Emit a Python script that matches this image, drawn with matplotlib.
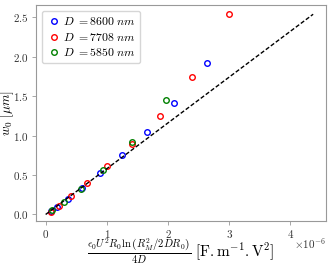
import numpy as np
import matplotlib
matplotlib.use("Agg")
import matplotlib.pyplot as plt

plt.rcParams['mathtext.fontset'] = 'cm'
plt.rcParams['font.family'] = 'serif'
plt.rcParams['font.serif'] = ['cmr10', 'DejaVu Serif']
plt.rcParams['axes.formatter.use_mathtext'] = True
plt.rcParams['axes.unicode_minus'] = False

scale = 1e-6

# D = 8600 nm
x_blue = [0.08, 0.19, 0.37, 0.59, 0.89, 1.24, 1.65, 2.10, 2.63]
y_blue = [0.04, 0.10, 0.20, 0.34, 0.53, 0.76, 1.05, 1.42, 1.92]
# D = 7708 nm
x_red = [0.09, 0.22, 0.41, 0.68, 1.01, 1.41, 1.87, 2.39, 3.00]
y_red = [0.03, 0.11, 0.23, 0.40, 0.61, 0.89, 1.25, 1.75, 2.54]
# D = 5850 nm
x_green = [0.11, 0.30, 0.58, 0.94, 1.41, 1.96]
y_green = [0.06, 0.16, 0.32, 0.56, 0.92, 1.45]

x_fit = [0.0, 4.37]
y_fit = [0.0, 2.54]

labels = [r'$D\ =8600\ nm$', r'$D\ =7708\ nm$', r'$D\ =5850\ nm$']

fig = plt.figure(figsize=(3.32, 2.66), dpi=100)
ax = fig.add_axes([0.108, 0.17, 0.873, 0.812])

series = [(x_blue, y_blue, 'b'), (x_red, y_red, 'r'), (x_green, y_green, 'g')]
for (xs, ys, c), lab in zip(series, labels):
    ax.plot(np.array(xs) * scale, ys, 'o', mfc='none', mec=c, ms=4, mew=1.0, label=lab)

ax.plot(np.array(x_fit) * scale, y_fit, '--', color='k', lw=1.0, dashes=(3, 1.5))

ax.set_xlim(-0.16 * scale, 4.575 * scale)
ax.set_ylim(-0.08, 2.66)
ax.set_yticks([0.0, 0.5, 1.0, 1.5, 2.0, 2.5])
ax.set_xticks(np.array([0, 1, 2, 3, 4]) * scale)

for s in ax.spines.values():
    s.set_color('#999999')
ax.tick_params(colors='#333333', labelsize=8, length=3, width=0.6, pad=2)
ax.tick_params(axis='both', color='#999999')
ax.xaxis.get_offset_text().set_fontsize(8)
ax.xaxis.get_offset_text().set_va('center')

ax.set_ylabel(r'$w_0\ [\mu m]$', fontsize=9.5)
ax.yaxis.set_label_coords(-0.068, 0.5)
ax.set_xlabel(r'$\frac{\epsilon_0 U^2 R_0 \ln\left(R_M^2/2DR_0\right)}{4D}\ [\mathrm{F.m^{-1}.V^2}]$',
              fontsize=11)
ax.xaxis.set_label_coords(0.5, -0.075, transform=ax.transAxes)
ax.xaxis.label.set_va('top')

leg = ax.legend(loc='upper left', fontsize=8.5, handletextpad=0.2, borderpad=0.4,
                labelspacing=0.3, handlelength=1.2, markerscale=1.0)
leg.get_frame().set_edgecolor('#cccccc')

fig.savefig('out.png', dpi=100)
